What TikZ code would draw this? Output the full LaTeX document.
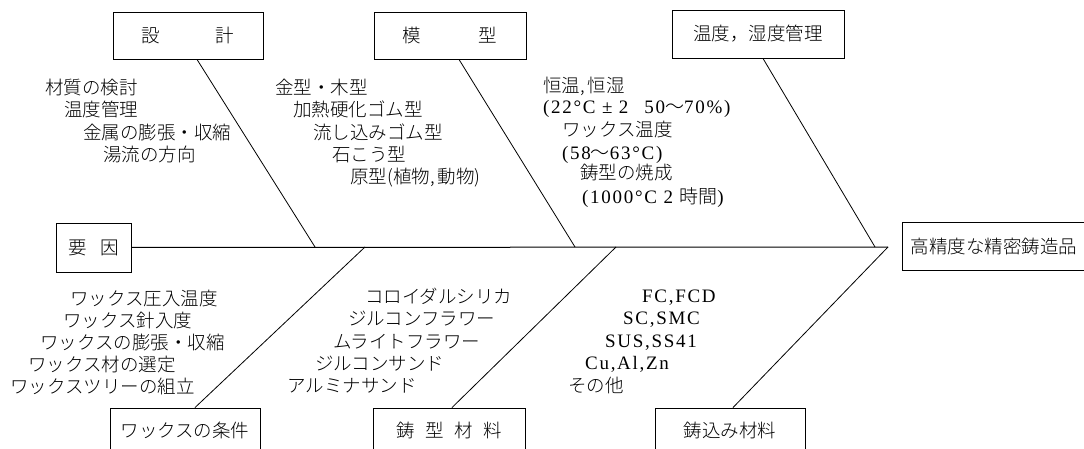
\documentclass[tikz,border=0pt]{standalone}
\usepackage{fontspec}
\setmainfont{Liberation Serif}
\newfontfamily\jp{Noto Sans CJK JP Light}
\newfontfamily\lat[LetterSpace=9]{Liberation Serif}
\newcommand{\wv}{{\jp 〜}}
\begin{document}
\begin{tikzpicture}[x=1pt,y=-1pt,
  box/.style={draw, line width=0.9pt, inner sep=0pt, font={\jp\fontsize{18.5}{22}\selectfont}},
  lbl/.style={anchor=west, inner sep=0pt, text height=16pt, text depth=2pt, font={\jp\fontsize{18.5}{22}\selectfont}},
  llat/.style={lbl, font={\lat\fontsize{19}{22}\selectfont}},
  bone/.style={line width=0.8pt},
  spine/.style={line width=1pt}]
\useasboundingbox (0,0) rectangle (1084,449);
% boxes
\node[box, minimum width=150pt, minimum height=47pt] (sekkei) at (188,35.5) {設\hspace{55.5pt}計};
\node[box, minimum width=152pt, minimum height=47pt] (mokei) at (450,35.5) {模\hspace{57.5pt}型};
\node[box, minimum width=172pt, minimum height=48pt] (ondo) at (758,34) {温度，湿度管理};
\node[box, minimum width=75pt, minimum height=49pt] (youin) at (93.5,247.5) {要\hspace{13.5pt}因};
\node[box, minimum width=184pt, minimum height=48pt] (result) at (994,246) {高精度な精密鋳造品};
\node[box, minimum width=150pt, minimum height=44pt] (wax) at (185,430) {ワックスの条件};
\node[box, minimum width=152pt, minimum height=44pt] (igata) at (449,430) {鋳\hspace{10.5pt}型\hspace{10.5pt}材\hspace{10.5pt}料};
\node[box, minimum width=150pt, minimum height=44pt] (ikomi) at (730,430) {鋳込み材料};
% spine and junctions
\coordinate (tip) at (888,247);
\coordinate (j1) at (315,247);
\coordinate (j2) at (575,247);
\coordinate (j3) at (875,247);
\coordinate (j4) at (365,247);
\coordinate (j5) at (616,247);
\draw[spine] (youin.east) -- (tip);
\draw[bone] ([xshift=9pt]sekkei.south) -- (j1);
\draw[bone] ([xshift=9pt]mokei.south) -- (j2);
\draw[bone] ([xshift=5pt]ondo.south) -- (j3);
\draw[bone] ([xshift=10pt]wax.north) -- (j4);
\draw[bone] ([xshift=3pt]igata.north) -- (j5);
\draw[bone] ([xshift=3pt]ikomi.north) -- (tip);
% design
\node[lbl] (d1) at (45,88) {材質の検討};
\node[lbl] (d2) at (64,110) {温度管理};
\node[lbl] (d3) at (83,133) {金属の膨張・収縮};
\node[lbl] (d4) at (103,155) {湯流の方向};
% pattern
\node[lbl] (m1) at (275,88) {金型・木型};
\node[lbl] (m2) at (293,110) {加熱硬化ゴム型};
\node[lbl] (m3) at (313,133) {流し込みゴム型};
\node[lbl] (m4) at (332,155) {石こう型};
\node[lbl] (m5) at (350,177) {原型(植物,\,動物)};
% temperature
\node[lbl] (o1) at (543,86) {恒温,\,恒湿};
\node[llat] (o2) at (543,107) {(22°C ± 2\hspace{16pt}50\wv70\%)};
\node[lbl] (o3) at (562,130) {ワックス温度};
\node[llat] (o4) at (562,153) {(58\wv63°C)};
\node[lbl] (o5) at (580,173) {鋳型の焼成};
\node[llat] (o6) at (582,197) {(1000°C 2 {\jp 時間})};
% wax
\node[lbl] (w1) at (70,298) {ワックス圧入温度};
\node[lbl] (w2) at (63,320) {ワックス針入度};
\node[lbl] (w3) at (40,342) {ワックスの膨張・収縮};
\node[lbl] (w4) at (28,364) {ワックス材の選定};
\node[lbl] (w5) at (10,386) {ワックスツリーの組立};
% mould material
\node[lbl] (g1) at (365,296) {コロイダルシリカ};
\node[lbl] (g2) at (348,318) {ジルコンフラワー};
\node[lbl] (g3) at (333,341) {ムライトフラワー};
\node[lbl] (g4) at (315,363) {ジルコンサンド};
\node[lbl] (g5) at (287,385) {アルミナサンド};
% casting material
\node[llat] (k1) at (642,295) {FC,FCD};
\node[llat] (k2) at (623,317) {SC,SMC};
\node[llat] (k3) at (605,340) {SUS,SS41};
\node[llat] (k4) at (585,362) {Cu,Al,Zn};
\node[lbl] (k5) at (568,385) {その他};
\end{tikzpicture}
\end{document}
